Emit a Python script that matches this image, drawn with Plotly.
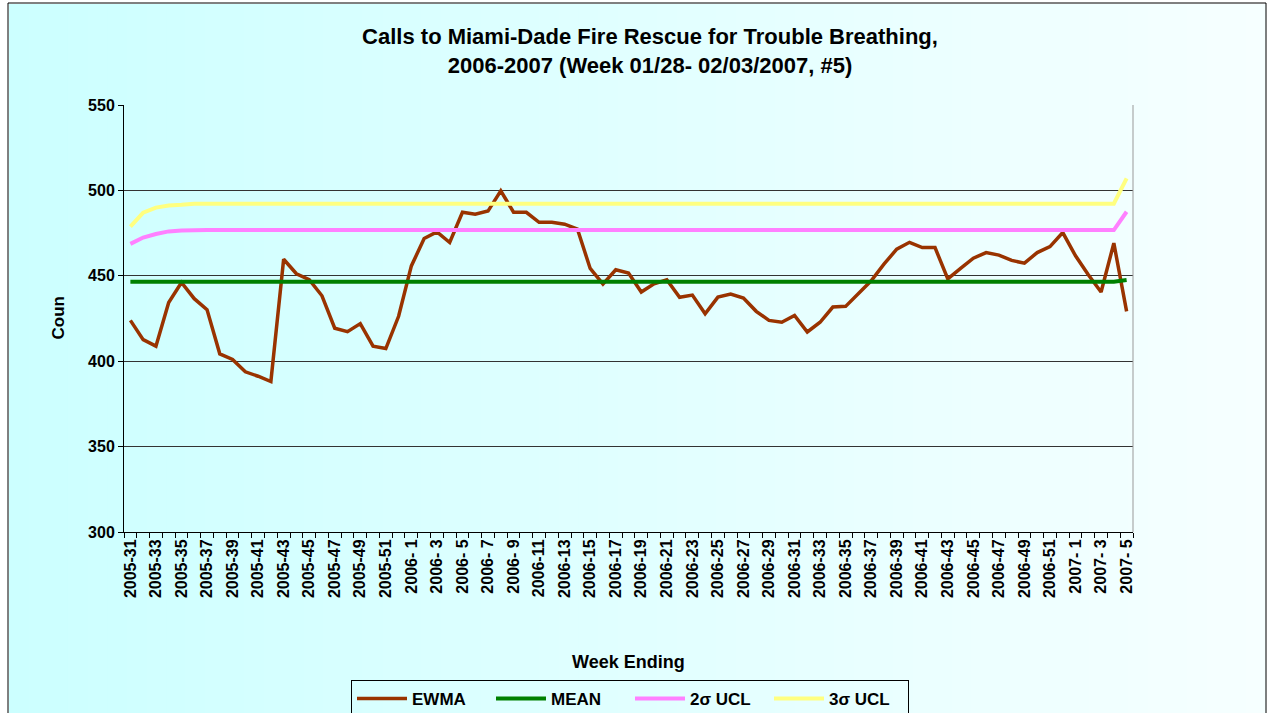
import plotly.graph_objects as go

weeks = [
    "2005-31", "2005-32", "2005-33", "2005-34", "2005-35", "2005-36", "2005-37", "2005-38",
    "2005-39", "2005-40", "2005-41", "2005-42", "2005-43", "2005-44", "2005-45", "2005-46",
    "2005-47", "2005-48", "2005-49", "2005-50", "2005-51", "2005-52",
    "2006- 1", "2006- 2", "2006- 3", "2006- 4", "2006- 5", "2006- 6", "2006- 7", "2006- 8",
    "2006- 9", "2006-10", "2006-11", "2006-12", "2006-13", "2006-14", "2006-15", "2006-16",
    "2006-17", "2006-18", "2006-19", "2006-20", "2006-21", "2006-22", "2006-23", "2006-24",
    "2006-25", "2006-26", "2006-27", "2006-28", "2006-29", "2006-30", "2006-31", "2006-32",
    "2006-33", "2006-34", "2006-35", "2006-36", "2006-37", "2006-38", "2006-39", "2006-40",
    "2006-41", "2006-42", "2006-43", "2006-44", "2006-45", "2006-46", "2006-47", "2006-48",
    "2006-49", "2006-50", "2006-51", "2006-52",
    "2007- 1", "2007- 2", "2007- 3", "2007- 4", "2007- 5",
]

ewma = [
    423.9, 412.6, 408.8, 434.4, 446.1, 436.6, 430.2, 404.3, 401.0, 393.8,
    391.2, 388.1, 459.7, 451.2, 447.7, 438.3, 419.3, 417.3, 422.0, 408.8,
    407.4, 426.3, 455.8, 471.8, 475.7, 469.5, 487.2, 486.0, 487.9, 499.8,
    487.2, 487.2, 481.3, 481.3, 480.2, 477.4, 454.3, 445.1, 453.5, 451.6,
    440.5, 445.3, 447.7, 437.4, 438.7, 427.8, 437.5, 439.3, 437.0, 429.2,
    423.9, 422.8, 426.8, 417.1, 422.8, 431.7, 432.1, 439.3, 447.1, 456.8,
    465.6, 469.6, 466.5, 466.5, 448.2, 454.3, 460.3, 463.6, 462.1, 459.0,
    457.4, 463.6, 467.1, 475.3, 461.7, 450.6, 440.5, 469.1, 429.2,
]

mean = [
    446.5, 446.5, 446.5, 446.5, 446.5, 446.5, 446.5, 446.5, 446.5, 446.5,
    446.5, 446.5, 446.5, 446.5, 446.5, 446.5, 446.5, 446.5, 446.5, 446.5,
    446.5, 446.5, 446.5, 446.5, 446.5, 446.5, 446.5, 446.5, 446.5, 446.5,
    446.5, 446.5, 446.5, 446.5, 446.5, 446.5, 446.5, 446.5, 446.5, 446.5,
    446.5, 446.5, 446.5, 446.5, 446.5, 446.5, 446.5, 446.5, 446.5, 446.5,
    446.5, 446.5, 446.5, 446.5, 446.5, 446.5, 446.5, 446.5, 446.5, 446.5,
    446.5, 446.5, 446.5, 446.5, 446.5, 446.5, 446.5, 446.5, 446.5, 446.5,
    446.5, 446.5, 446.5, 446.5, 446.5, 446.5, 446.5, 446.5, 447.5,
]

ucl2 = [
    468.7, 472.4, 474.5, 476.0, 476.5, 476.8, 476.8, 476.8, 476.8, 476.8,
    476.8, 476.8, 476.8, 476.8, 476.8, 476.8, 476.8, 476.8, 476.8, 476.8,
    476.8, 476.8, 476.8, 476.8, 476.8, 476.8, 476.8, 476.8, 476.8, 476.8,
    476.8, 476.8, 476.8, 476.8, 476.8, 476.8, 476.8, 476.8, 476.8, 476.8,
    476.8, 476.8, 476.8, 476.8, 476.8, 476.8, 476.8, 476.8, 476.8, 476.8,
    476.8, 476.8, 476.8, 476.8, 476.8, 476.8, 476.8, 476.8, 476.8, 476.8,
    476.8, 476.8, 476.8, 476.8, 476.8, 476.8, 476.8, 476.8, 476.8, 476.8,
    476.8, 476.8, 476.8, 476.8, 476.8, 476.8, 476.8, 476.8, 487.5,
]

ucl3 = [
    478.8, 487.0, 489.9, 491.2, 491.6, 492.2, 492.2, 492.2, 492.2, 492.2,
    492.2, 492.2, 492.2, 492.2, 492.2, 492.2, 492.2, 492.2, 492.2, 492.2,
    492.2, 492.2, 492.2, 492.2, 492.2, 492.2, 492.2, 492.2, 492.2, 492.2,
    492.2, 492.2, 492.2, 492.2, 492.2, 492.2, 492.2, 492.2, 492.2, 492.2,
    492.2, 492.2, 492.2, 492.2, 492.2, 492.2, 492.2, 492.2, 492.2, 492.2,
    492.2, 492.2, 492.2, 492.2, 492.2, 492.2, 492.2, 492.2, 492.2, 492.2,
    492.2, 492.2, 492.2, 492.2, 492.2, 492.2, 492.2, 492.2, 492.2, 492.2,
    492.2, 492.2, 492.2, 492.2, 492.2, 492.2, 492.2, 492.2, 507.0,
]

y_ticks = [300, 350, 400, 450, 500, 550]

title_text = ("Calls to Miami-Dade Fire Rescue for Trouble Breathing,<br>"
              "2006-2007 (Week 01/28- 02/03/2007, #5)")

W, H = 1278, 713
L, R, T, B = 124, 145, 105, 181
PW, PH = W - L - R, H - T - B

def px_x(p):
    return (p - L) / PW

def px_y(p):
    return (H - B - p) / PH

FONT = "Arial, 'Liberation Sans', sans-serif"

fig = go.Figure()
series = [
    ("EWMA", ewma, "#993300", 3.5),
    ("MEAN", mean, "#008000", 4),
    ("2\u03c3 UCL", ucl2, "#ff80ff", 4),
    ("3\u03c3 UCL", ucl3, "#ffff80", 4),
]
for name, vals, col, w in series:
    fig.add_trace(go.Scatter(x=weeks, y=vals, mode="lines", name=name,
                             line=dict(color=col, width=w)))

# background gradient strips (chart area)
shapes = []
left_px, right_px, top_px, bot_px = 9, 1266, 4, 713
n = 64
c0 = (204, 255, 255)
c1 = (246, 255, 255)
for k in range(n):
    a = left_px + (right_px - left_px) * k / n
    b = left_px + (right_px - left_px) * (k + 1) / n + 1
    t = k / (n - 1)
    c = tuple(round(c0[j] + (c1[j] - c0[j]) * t) for j in range(3))
    shapes.append(dict(type="rect", xref="paper", yref="paper",
                       x0=px_x(a), x1=px_x(min(b, right_px)), y0=px_y(bot_px), y1=px_y(top_px),
                       fillcolor="rgb(%d,%d,%d)" % c, line=dict(width=0), layer="below"))
# chart border
for (xa, ya, xb, yb) in [(8, 3, 8, 713), (8, 3, 1266, 3), (1266, 3, 1266, 713)]:
    shapes.append(dict(type="line", xref="paper", yref="paper",
                       x0=px_x(xa), y0=px_y(ya), x1=px_x(xb), y1=px_y(yb),
                       line=dict(color="black", width=1)))
# right edge of plot area
shapes.append(dict(type="line", xref="paper", yref="paper", x0=1, x1=1, y0=0, y1=1,
                   line=dict(color="#999999", width=1)))

ticktext = [w if i % 2 == 0 else "" for i, w in enumerate(weeks)]

fig.update_layout(
    width=W, height=H,
    margin=dict(l=L, r=R, t=T, b=B, pad=0, autoexpand=False),
    paper_bgcolor="white",
    plot_bgcolor="rgba(0,0,0,0)",
    shapes=shapes,
    title=dict(text=title_text, x=650 / W, xanchor="center", y=1 - 44 / H, yanchor="middle",
               yref="container",
               font=dict(family=FONT, size=22, color="black", weight="bold")),
    xaxis=dict(type="category", categoryorder="array", categoryarray=weeks,
               tickmode="array", tickvals=weeks, ticktext=ticktext, tickangle=-90,
               tickson="boundaries", ticks="outside", ticklen=5, tickcolor="black",
               showgrid=False, showline=True, linecolor="black", linewidth=1,
               zeroline=False, automargin=False,
               tickfont=dict(family=FONT, size=16, color="black", weight="bold"),
               range=[-0.5, len(weeks) - 0.5]),
    yaxis=dict(range=[300, 550], tickvals=y_ticks, ticks="outside", ticklen=5,
               tickcolor="black", showline=True, linecolor="black", linewidth=1,
               showgrid=True, gridcolor="#333333", gridwidth=1, zeroline=False,
               automargin=False,
               tickfont=dict(family=FONT, size=16, color="black", weight="bold")),
    legend=dict(orientation="h", x=630 / W, xref="container", xanchor="center",
                y=px_y(680), yanchor="top",
                bgcolor="rgba(0,0,0,0)", bordercolor="black", borderwidth=1,
                font=dict(family=FONT, size=17, color="black", weight="bold"),
                entrywidth=74, itemwidth=50),
    annotations=[
        dict(text="Coun", xref="paper", yref="paper", x=px_x(58), y=0.5,
             textangle=-90, showarrow=False, xanchor="center", yanchor="middle",
             font=dict(family=FONT, size=17, color="black", weight="bold")),
        dict(text="Week Ending", xref="paper", yref="paper", x=0.5, y=px_y(662),
             showarrow=False, xanchor="center", yanchor="middle",
             font=dict(family=FONT, size=18, color="black", weight="bold")),
    ],
    showlegend=True,
)

fig.write_html("out.html", config={"displayModeBar": False},
               post_script="document.body.style.margin='0px';")
